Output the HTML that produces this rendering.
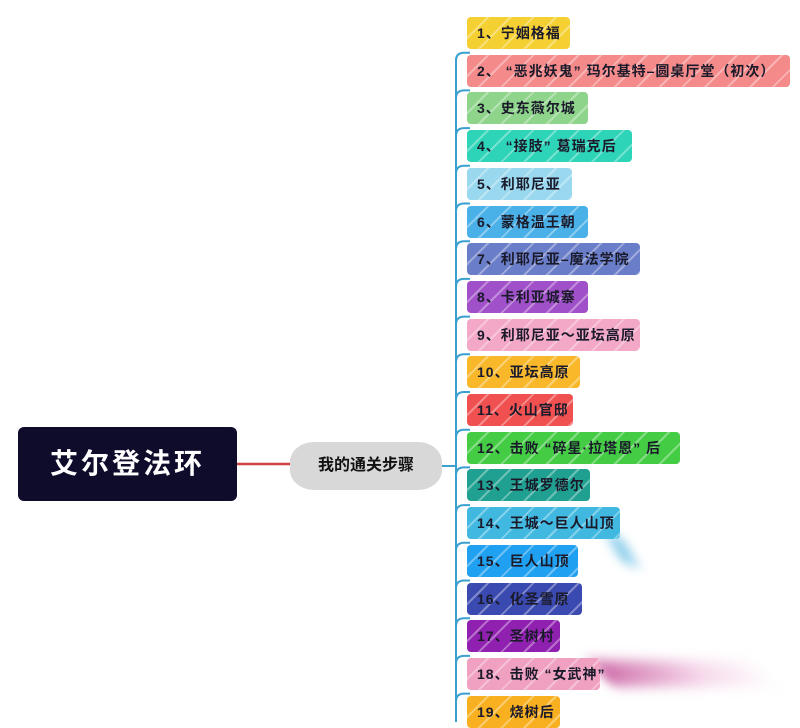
<!DOCTYPE html>
<html><head><meta charset="utf-8"><style>
body{margin:0;width:800px;height:722px;background:#fff;position:relative;overflow:hidden;font-family:"Liberation Sans","Noto Sans CJK SC",sans-serif}
.main{position:absolute;left:18px;top:427px;width:219px;height:74px;background:#0e0c2a;border-radius:6px;color:#fff;font-size:28px;font-weight:bold;text-align:center;line-height:74px;letter-spacing:3px}
.mid{position:absolute;left:290px;top:442px;width:152px;height:48px;background:#d8d8d8;border-radius:24px/20px;color:#111;font-size:16px;font-weight:bold;text-align:center;line-height:48px}
.it{position:absolute;left:467px;height:32px;line-height:32px;padding-left:10px;font-size:14px;font-weight:bold;color:#1a1a2a;border-radius:4px;box-sizing:border-box;white-space:nowrap;letter-spacing:1px;
background-image:repeating-linear-gradient(135deg,rgba(255,255,255,0) 0 14px,rgba(255,255,255,.35) 14px 16px)}
.blur{position:absolute;filter:blur(6px)}
</style></head><body>
<svg width="800" height="722" style="position:absolute;left:0;top:0">
<line x1="237" y1="464" x2="290" y2="464" stroke="#d04040" stroke-width="2.5"/>
<line x1="442" y1="466" x2="456" y2="466" stroke="#3aa0d0" stroke-width="2"/>
<line x1="456" y1="58" x2="456" y2="722" stroke="#3aa0d0" stroke-width="2"/>
<g fill="none" stroke="#3aa0d0" stroke-width="2" id="br"></g>
</svg>
<div class="blur" style="left:600px;top:660px;width:170px;height:26px;background:linear-gradient(90deg,rgba(190,60,140,.75),rgba(230,150,200,.35) 60%,rgba(255,255,255,0));transform:skewX(35deg)"></div>
<div class="blur" style="left:615px;top:535px;width:14px;height:30px;background:rgba(60,170,220,.6);transform:skewX(30deg)"></div>
<div id="list"></div>
<div class="main">艾尔登法环</div>
<div class="mid">我的通关步骤</div>
<script>
var d=[["1、宁姻格福",103,"#f5d033"],["2、 “恶兆妖鬼” 玛尔基特–圆桌厅堂（初次）",323,"#f48a8a"],["3、史东薇尔城",121,"#8ed48a"],["4、 “接肢” 葛瑞克后",165,"#2dd4b8"],["5、利耶尼亚",105,"#9ad8ef"],["6、蒙格温王朝",121,"#4ab0e8"],["7、利耶尼亚–魔法学院",173,"#6a7dc8"],["8、卡利亚城寨",121,"#a050c8"],["9、利耶尼亚～亚坛高原",173,"#f4a8c8"],["10、亚坛高原",113,"#f8b82a"],["11、火山官邸",106,"#f05050"],["12、击败 “碎星·拉塔恩” 后",213,"#44cc44"],["13、王城罗德尔",123,"#20a090"],["14、王城～巨人山顶",153,"#40b8e0"],["15、巨人山顶",111,"#20a0f0"],["16、化圣雪原",115,"#3a4ab0"],["17、圣树村",93,"#9020b0"],["18、击败 “女武神”",133,"#f0a0c0"],["19、烧树后",93,"#f8b020"]];
var h="",p="";
d.forEach(function(r,k){var c=33+37.7*k;h+='<div class="it" style="top:'+(c-16)+'px;width:'+r[1]+'px;background-color:'+r[2]+'">'+r[0]+'</div>';
if(k>0){var y=c-18;p+='<path d="M456 '+(y+8)+' Q456 '+y+' 464 '+y+' L470 '+y+'"/>';}});
document.getElementById("list").innerHTML=h;
document.getElementById("br").innerHTML=p;
</script>
</body></html>
